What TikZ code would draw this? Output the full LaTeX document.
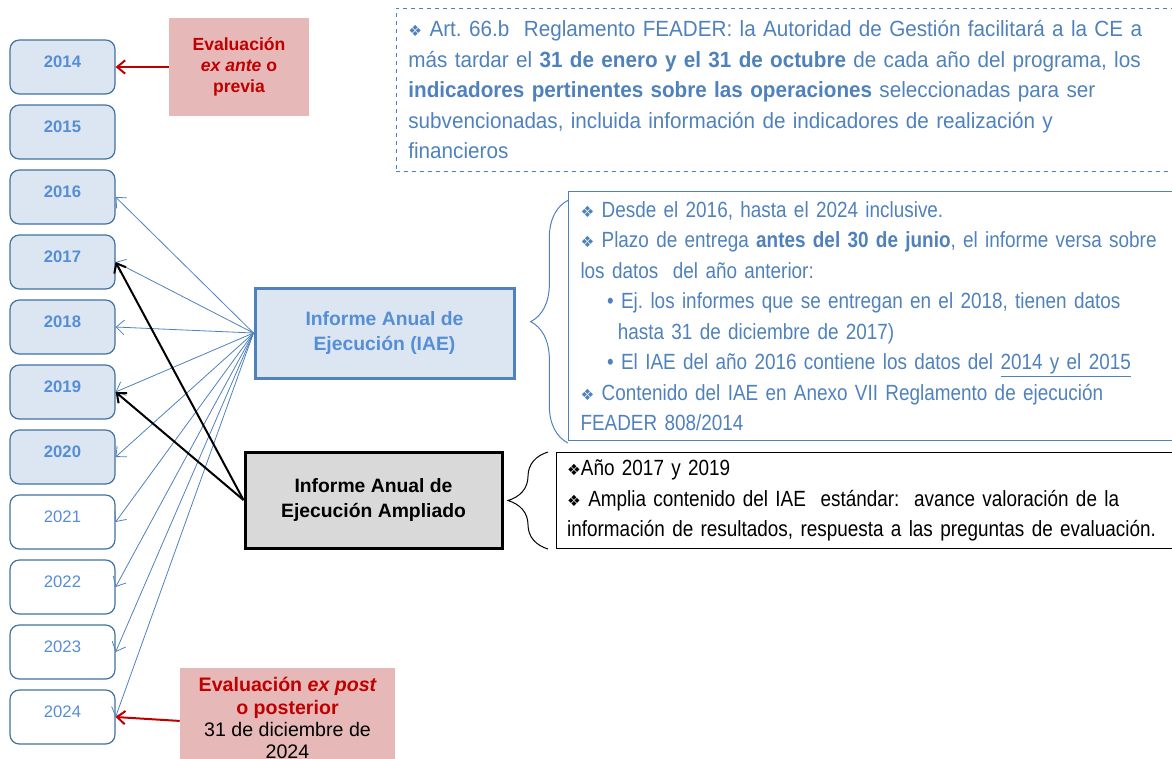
\documentclass[tikz,border=0pt]{standalone}
\usepackage{fontspec}
\setmainfont{Liberation Sans}
\newfontfamily\narrowfont[FakeStretch=0.86]{Liberation Sans}
\newfontfamily\artfont[FakeStretch=0.94]{Liberation Sans}
\newfontfamily\symfont{DejaVu Sans}
\usetikzlibrary{arrows.meta,decorations.pathreplacing}
\definecolor{yrfill}{HTML}{DCE6F2}
\definecolor{yrborder}{HTML}{41719C}
\definecolor{yrtext}{HTML}{558ED5}
\definecolor{bluemain}{HTML}{4F81BD}
\definecolor{pinkfill}{HTML}{E6B9B8}
\definecolor{darkred}{HTML}{C00000}
\definecolor{greyfill}{HTML}{D9D9D9}
\newcommand{\dmd}{{\symfont\scalebox{0.7}{❖}}}
\frenchspacing
\begin{document}
\begin{tikzpicture}[x=0.75pt,y=-0.75pt,
  yearfull/.style={draw=yrborder, fill=yrfill, rounded corners=7pt, line width=0.9pt,
    minimum width=78.75pt, minimum height=40.5pt, inner sep=0pt,
    text height=20.25pt, text depth=20.25pt,
    font=\fontsize{12.5}{15}\selectfont\bfseries, text=yrtext},
  yearempty/.style={yearfull, fill=white, font=\fontsize{12.5}{15}\selectfont},
  evalbox/.style={fill=pinkfill, inner sep=0pt, align=center,
    font=\fontsize{13.2}{16}\selectfont},
  mainbox/.style={line width=2.25pt, inner sep=0pt, align=center,
    font=\fontsize{14.5}{18.2}\selectfont\bfseries},
  infobox/.style={inner xsep=9pt, inner ysep=0pt, align=left,
    font=\narrowfont\fontsize{16.5}{22.9}\selectfont},
  bluearrow/.style={draw=bluemain, line width=0.6pt, -{Straight Barb[length=6pt,width=11pt]}},
  blackarrow/.style={draw=black, line width=1.5pt, -{Straight Barb[length=6pt,width=10pt]}},
  redarrow/.style={draw=darkred, line width=1.5pt, -{Straight Barb[length=6pt,width=10pt]}},
]
\useasboundingbox (0,0) rectangle (1172,758);
\clip (0,0) rectangle (1172,758);

% year boxes
\foreach \yr [count=\i from 0] in {2014,2015,2016,2017,2018,2019,2020}
  \node[yearfull] (y\yr) at (62.5,67+65*\i) {\yr};
\foreach \yr [count=\i from 7] in {2021,2022,2023,2024}
  \node[yearempty] (y\yr) at (62.5,67+65*\i) {\yr};

% evaluation boxes
\node[evalbox, minimum width=105pt, minimum height=73.5pt, text=darkred] (exante) at (239,67)
  {\bfseries Evaluación\\ \bfseries\itshape ex ante\upshape{} o\\ \bfseries previa};
\node[evalbox, font=\fontsize{14.7}{16.8}\selectfont, minimum width=161.25pt, minimum height=75pt,
  anchor=north] (expost) at (287.5,668)
  {\textcolor{darkred}{\bfseries Evaluación \itshape ex post}\\
   \textcolor{darkred}{\bfseries o posterior}\\
   31 de diciembre de\\ 2024};

% main boxes
\node[mainbox, draw=bluemain, fill=yrfill, text=yrtext, minimum width=194.25pt, minimum height=67.5pt]
  (iae) at (384.5,333) {Informe Anual de\\ Ejecución (IAE)};
\node[mainbox, draw=black, fill=greyfill, minimum width=192.75pt, minimum height=72pt]
  (amp) at (373.5,500) {Informe Anual de\\ Ejecución Ampliado};

% info boxes
\node[infobox, font=\artfont\fontsize{16.5}{22.9}\selectfont, draw=bluemain, dashed, line width=0.6pt,
  text=bluemain, anchor=north west, text width=570pt, minimum height=122.25pt] (art) at (396,8)
  {\dmd\ Art. 66.b\ \ Reglamento FEADER: la Autoridad de Gestión facilitará a la CE a\\
   más tardar el \textbf{31 de enero y el 31 de octubre} de cada año del programa,\ los\\
   \textbf{indicadores pertinentes sobre las operaciones} seleccionadas para ser\\
   subvencionadas, incluida información de indicadores de realización y\\
   financieros};
\node[infobox, draw=bluemain, line width=0.75pt, text=bluemain, anchor=north west,
  text width=441pt, minimum height=186.75pt] (iaetxt) at (568,191)
  {\dmd\ Desde el 2016, hasta el 2024 inclusive.\\
   \dmd\ Plazo de entrega \textbf{antes del 30 de junio}, el informe versa sobre\\
   los datos\ \ del año anterior:\\
   \hspace*{20pt}•\ Ej. los informes que se entregan en el 2018, tienen datos\\
   \hspace*{28pt}hasta 31 de diciembre de 2017)\\
   \hspace*{20pt}•\ El IAE del año 2016 contiene los datos del \underline{2014 y el 2015}\\
   \dmd\ Contenido del IAE en Anexo VII Reglamento de ejecución\\
   FEADER 808/2014};
\node[infobox, draw=black, line width=0.75pt, text=black, anchor=north west, inner xsep=8pt,
  text width=450pt, minimum height=72pt] (amptxt) at (556,452)
  {\dmd Año 2017 y 2019\\
   \dmd\ Amplia contenido del IAE\ \ estándar:\ \ avance valoración de la\\
   información de resultados,\ respuesta a las preguntas de evaluación.};

% braces
\draw[bluemain, line width=0.75pt, decorate, decoration={brace, amplitude=28pt, aspect=0.5}]
  ([yshift=-1.5pt]iaetxt.south west) -- ([yshift=-7pt]iaetxt.north west);
\draw[black, line width=0.75pt, decorate, decoration={brace, amplitude=30pt, aspect=0.5}]
  ([xshift=-6pt]amptxt.south west) -- ([xshift=-6pt]amptxt.north west);

% connectors
\foreach \yr in {2016,2017,2018,2019,2020,2021,2022,2023,2024}
  \draw[bluearrow] (iae.west) -- (y\yr.east);
\draw[blackarrow] (amp.west) -- (y2017.east);
\draw[blackarrow] (amp.west) -- (y2019.east);
\draw[redarrow] (exante.west) -- (y2014.east);
\draw[redarrow] ([yshift=-2pt]expost.west) -- (y2024.east);
\end{tikzpicture}
\end{document}
